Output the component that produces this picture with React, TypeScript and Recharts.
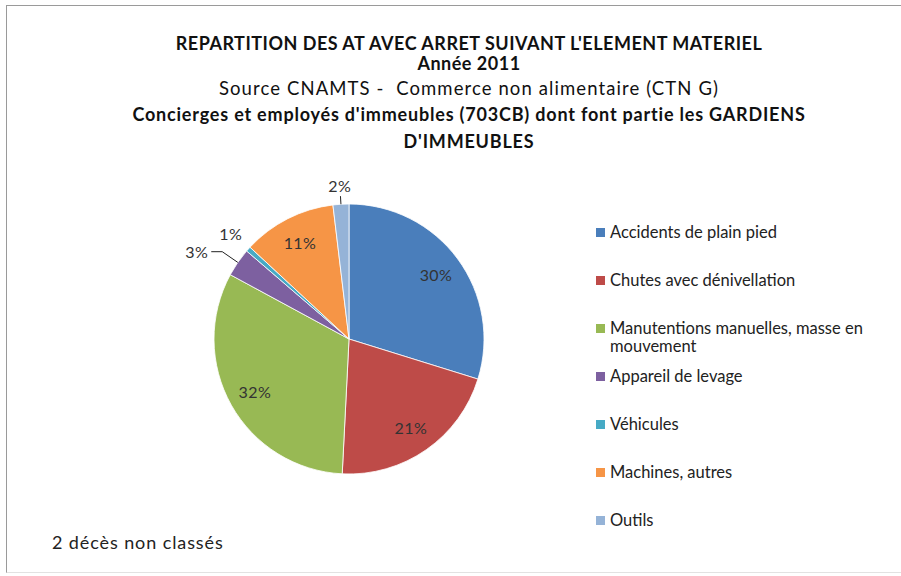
import React from "react"
import { PieChart, Pie, Cell, Legend } from "recharts"

// Share of accidents with work stoppage per material element (%)
const categories = [
  "Accidents de plain pied",
  "Chutes avec dénivellation",
  "Manutentions manuelles, masse en mouvement",
  "Appareil de levage",
  "Véhicules",
  "Machines, autres",
  "Outils",
]
const shares = [29.8, 21.0, 32.1, 3.4, 0.6, 11.2, 1.9]
const colors = ["#4A7EBB", "#BE4B48", "#98B954", "#7D60A0", "#46AAC5", "#F69546", "#95B3D7"]

const titleLines = [
  "REPARTITION DES AT AVEC ARRET SUIVANT L'ELEMENT MATERIEL",
  "Année 2011",
]
const sourceLine = "Source CNAMTS -  Commerce non alimentaire (CTN G)"
const subtitleLines = [
  "Concierges et employés d'immeubles (703CB) dont font partie les GARDIENS",
  "D'IMMEUBLES",
]
const footNote = "2 décès non classés"

const data = categories.map((name, i) => ({ name, value: shares[i] }))

const FONT = "Lato, 'Open Sans', sans-serif"
const RAD = Math.PI / 180
const CX = 349
const CY = 339
const R = 135

// how each slice label is placed: inside, or outside with an optional leader
const labelPlacement: Record<number, { r: number; shift?: number; leader?: "elbow" | "straight" }> = {
  3: { r: 1.25, shift: 4, leader: "elbow" },
  4: { r: 1.175 },
  6: { r: 1.14, leader: "straight" },
}

const pt = (angle: number, r: number) => ({
  x: CX + Math.cos(-angle * RAD) * r,
  y: CY + Math.sin(-angle * RAD) * r,
})

const labelText = { fill: "#333", fontSize: 16, fontFamily: FONT, letterSpacing: 0.4 }

const renderLabel = (props: any) => {
  const { midAngle, percent, index } = props
  const text = `${Math.round(percent * 100)}%`
  const place = labelPlacement[index]
  if (!place) {
    const p = pt(midAngle, R * 0.8)
    return (
      <text x={p.x} y={p.y} textAnchor="middle" dominantBaseline="central" {...labelText}>
        {text}
      </text>
    )
  }
  if (place.leader === "elbow") {
    const a = pt(midAngle, R)
    const b = pt(midAngle, R * 1.14)
    return (
      <g>
        <polyline points={`${a.x},${a.y} ${b.x},${b.y} ${b.x - 11},${b.y}`} fill="none" stroke="#222" strokeWidth={1} />
        <text x={b.x - 14} y={b.y} textAnchor="end" dominantBaseline="central" {...labelText}>
          {text}
        </text>
      </g>
    )
  }
  const p = pt(midAngle + (place.shift || 0), R * place.r)
  return (
    <g>
      {place.leader === "straight" && (
        <line
          x1={pt(midAngle, R).x}
          y1={pt(midAngle, R).y}
          x2={pt(midAngle, R * 1.06).x}
          y2={pt(midAngle, R * 1.06).y}
          stroke="#222"
          strokeWidth={1}
        />
      )}
      <text x={p.x} y={p.y} textAnchor="middle" dominantBaseline="central" {...labelText}>
        {text}
      </text>
    </g>
  )
}

const renderLegend = () => (
  <div style={{ fontFamily: FONT, fontSize: 16.5, color: "#222" }}>
    {categories.map((name, i) => (
      <div key={name} style={{ height: 48, display: "flex", alignItems: "flex-start" }}>
        <div style={{ width: 9, height: 9, marginTop: 5, marginRight: 5, background: colors[i], flexShrink: 0 }} />
        <div style={{ lineHeight: "18px", width: 258 }}>{name}</div>
      </div>
    ))}
  </div>
)

export default function App() {
  return (
    <div style={{ position: "absolute", left: 0, top: 0, width: 901, height: 576, overflow: "hidden", background: "#fff" }}>
      <div
        style={{
          position: "absolute",
          left: 6,
          top: 5,
          width: 920,
          height: 566,
          borderLeft: "1px solid #9a9a9a",
          borderTop: "1px solid #9a9a9a",
          borderBottom: "1px solid #e2e2e2",
        }}
      />
      <div
        style={{
          position: "absolute",
          left: 0,
          top: 33,
          width: 938,
          textAlign: "center",
          fontFamily: FONT,
          color: "#111",
          whiteSpace: "pre",
        }}
      >
        {titleLines.map((t) => (
          <div key={t} style={{ fontWeight: 700, fontSize: 18, lineHeight: "20px", letterSpacing: 0.5 }}>
            {t}
          </div>
        ))}
        <div style={{ fontSize: 18.5, lineHeight: "26px", marginTop: 2, letterSpacing: 1.1 }}>{sourceLine}</div>
        {subtitleLines.map((t) => (
          <div key={t} style={{ fontWeight: 700, fontSize: 18, lineHeight: "27px", letterSpacing: 0.8 }}>
            {t}
          </div>
        ))}
      </div>
      <PieChart width={901} height={576} margin={{ top: 0, right: 0, bottom: 0, left: 0 }} style={{ position: "absolute", left: 0, top: 0 }}>
        <Pie
          data={data}
          dataKey="value"
          nameKey="name"
          cx={CX}
          cy={CY}
          outerRadius={R}
          startAngle={90}
          endAngle={-270}
          stroke="#fff"
          strokeWidth={0.8}
          label={renderLabel}
          labelLine={false}
          isAnimationActive={false}
        >
          {data.map((d, i) => (
            <Cell key={d.name} fill={colors[i]} />
          ))}
        </Pie>
        <Legend
          layout="vertical"
          verticalAlign="top"
          align="right"
          content={renderLegend}
          wrapperStyle={{ position: "absolute", left: 596, top: 223, width: 275 }}
        />
      </PieChart>
      <div style={{ position: "absolute", left: 52, top: 531, fontFamily: FONT, fontSize: 18, letterSpacing: 0.9, color: "#222" }}>
        {footNote}
      </div>
    </div>
  )
}
